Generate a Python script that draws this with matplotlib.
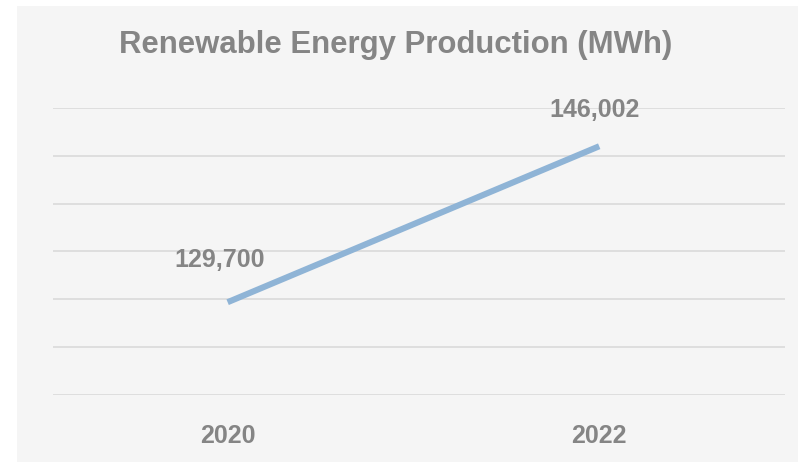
import matplotlib.pyplot as plt
from matplotlib.patches import Rectangle

# data
years = ["2020", "2022"]
production = [129700, 146002]
label_offsets = [(-8, 42), (-5, 36)]  # pixels, label placement above points

grey_text = "#858585"
plt.rcParams['font.family'] = ['Liberation Sans', 'DejaVu Sans']

fig = plt.figure(figsize=(7.98, 4.62), dpi=100, facecolor="white")
# grey panel behind the chart
fig.patches.append(Rectangle((17 / 798, 0), 1 - 17 / 798, 1 - 6 / 462,
                             transform=fig.transFigure, facecolor="#f5f5f5",
                             edgecolor="none", zorder=-5))

ax = fig.add_axes([53 / 798, 1 - 395 / 462, (785 - 53) / 798, (395 - 108) / 462])
ax.set_zorder(2)
ax.set_facecolor("none")

x = list(range(len(years)))
ax.plot(x, production, color="#8fb4d6", linewidth=4.4, solid_capstyle="butt", zorder=3)

for xi, val, off in zip(x, production, label_offsets):
    ax.annotate(f"{val:,}", (xi, val), xytext=off, textcoords="offset pixels",
                ha="center", va="center", fontsize=18, fontweight="bold",
                color=grey_text)

ax.set_xlim(-0.47, 1.5)
ax.set_ylim(120000, 150000)
ax.set_yticks(range(120000, 150001, 5000))
ax.set_yticklabels([])
ax.set_xticks(x, years)
ax.tick_params(axis="both", length=0)
ax.tick_params(axis="x", pad=21, labelsize=18, labelcolor=grey_text)
for lab in ax.get_xticklabels():
    lab.set_fontweight("bold")
ax.grid(axis="y", color="#dcdcdc", linewidth=1.3)
ax.set_axisbelow(True)
for s in ax.spines.values():
    s.set_visible(False)

fig.text(396 / 798, 1 - 45 / 462, "Renewable Energy Production (MWh)",
         ha="center", va="center", fontsize=22.4, fontweight="bold", color=grey_text)

fig.savefig("out.png", dpi=100)
